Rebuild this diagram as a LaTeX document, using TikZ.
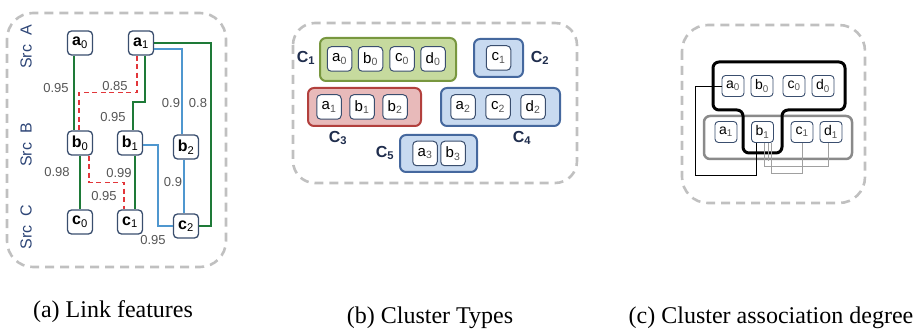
\documentclass[tikz,border=0pt]{standalone}
\usepackage{fontspec}
\setmainfont{Liberation Sans}
\newfontfamily\capfont{Liberation Serif}
\usetikzlibrary{calc}

\definecolor{nodeedge}{HTML}{3A4E6E}
\definecolor{linkgreen}{HTML}{1E7A38}
\definecolor{linkblue}{HTML}{4F97CF}
\definecolor{linkred}{HTML}{E2363A}
\definecolor{numgray}{HTML}{555555}
\definecolor{srcblue}{HTML}{2E4677}
\definecolor{framegray}{HTML}{C0C0C0}
\definecolor{clgreenfill}{HTML}{C6DA9E}
\definecolor{clgreenedge}{HTML}{78973F}
\definecolor{clredfill}{HTML}{E8BABA}
\definecolor{clrededge}{HTML}{B2403D}
\definecolor{clbluefill}{HTML}{C8DAF0}
\definecolor{clblueedge}{HTML}{45689E}
\definecolor{clnavy}{HTML}{1F2D4D}
\definecolor{assocgray}{HTML}{8A8A8A}
\definecolor{wiregray}{HTML}{A0A0A0}

\newcommand{\blab}[2]{\textbf{#1}\textsubscript{#2}}
\newcommand{\rlab}[2]{#1\textsubscript{\color{numgray}#2}}

\tikzset{
  frame/.style={draw=framegray, line width=2.6pt, dash pattern=on 9pt off 6pt, rounded corners=26pt},
  recbox/.style={draw=nodeedge, line width=1.3pt, rounded corners=4pt, fill=white,
    minimum width=25pt, minimum height=24pt, inner sep=0pt, font=\fontsize{16}{16}\selectfont},
  itembox/.style={draw=nodeedge, line width=1pt, rounded corners=4pt, fill=white,
    minimum width=24.5pt, minimum height=24.5pt, inner sep=0pt, font=\fontsize{15}{15}\selectfont},
  smallbox/.style={draw=nodeedge, line width=0.9pt, rounded corners=3.5pt, fill=white,
    minimum width=22pt, minimum height=21pt, inner sep=0pt, font=\fontsize{14}{14}\selectfont},
  grnlink/.style={draw=linkgreen, line width=2pt},
  bluelink/.style={draw=linkblue, line width=1.3pt},
  redlink/.style={draw=linkred, line width=1.5pt, dash pattern=on 5pt off 3.5pt},
  weight/.style={text=numgray, font=\fontsize{13}{13}\selectfont, inner sep=0pt},
  srclabel/.style={text=srcblue, font=\fontsize{16}{16}\selectfont, rotate=90, inner sep=0pt},
  clgreen/.style={draw=clgreenedge, fill=clgreenfill, line width=2pt, rounded corners=6pt},
  clred/.style={draw=clrededge, fill=clredfill, line width=2pt, rounded corners=6pt},
  clblue/.style={draw=clblueedge, fill=clbluefill, line width=2pt, rounded corners=6pt},
  cltag/.style={text=clnavy, font=\fontsize{16}{16}\selectfont\bfseries, inner sep=0pt},
  caption/.style={font=\capfont\fontsize{24}{24}\selectfont, inner sep=0pt},
  wire/.style={draw=black, line width=0.9pt},
  graywire/.style={draw=wiregray, line width=0.9pt}
}

\begin{document}
\begin{tikzpicture}[x=1pt,y=-1pt]
\useasboundingbox (0,0) rectangle (915,331);

% ---------------- (a) link features ----------------
\draw[frame] (7,13) rectangle (226,267);
\node[srclabel] (srcA) at (26,47) {Src\ \ A};
\node[srclabel] (srcB) at (26,145) {Src\ \ B};
\node[srclabel] (srcC) at (26,227) {Src\ \ C};

\node[recbox] (a0) at (80,43) {\blab{a}{0}};
\node[recbox] (a1) at (141,43) {\blab{a}{1}};
\node[recbox] (b0) at (80,143) {\blab{b}{0}};
\node[recbox] (b1) at (130,143) {\blab{b}{1}};
\node[recbox] (b2) at (186,147) {\blab{b}{2}};
\node[recbox] (c0) at (80,222) {\blab{c}{0}};
\node[recbox] (c1) at (130,222) {\blab{c}{1}};
\node[recbox] (c2) at (186,226) {\blab{c}{2}};

% green links
\draw[grnlink] ([xshift=-6pt]a0.south) -- ([xshift=-6pt]a0.south |- b0.north);
\draw[grnlink] (b0.south) -- (c0.north);
\draw[grnlink] ([xshift=4pt]a1.south) |- ($([xshift=3pt]b1.north)+(0,-28)$) -- ([xshift=3pt]b1.north);
\draw[grnlink] ([xshift=5pt]b1.south) -- ([xshift=5pt]b1.south |- c1.north);
\draw[grnlink] (a1.east) -| ($(c2.east)+(12,0)$) -- (c2.east);
% blue links
\draw[bluelink] ([yshift=-6pt]a1.east) -| ([xshift=-4pt]b2.north);
\draw[bluelink] ([yshift=-2pt]b1.east) -| ($(c2.west)+(-15,0)$) -- (c2.west);
\draw[bluelink] ([xshift=-2pt]b2.south) -- ([xshift=-2pt]b2.south |- c2.north);
% red dashed links
\draw[redlink] ([xshift=-4pt]a1.south) |- ($([xshift=-1pt]b0.north)+(0,-38)$) -- ([xshift=-1pt]b0.north);
\draw[redlink] ([xshift=9pt]b0.south) |- ($([xshift=-6pt]c1.north)+(0,-27)$) -- ([xshift=-6pt]c1.north);

\node[weight] (w1) at (56,88) {0.95};
\node[weight] (w2) at (115,86) {0.85};
\node[weight] (w3) at (171,103) {0.9};
\node[weight] (w4) at (198,103) {0.8};
\node[weight] (w5) at (113,117) {0.95};
\node[weight] (w6) at (57,172) {0.98};
\node[weight] (w7) at (119,173) {0.99};
\node[weight] (w8) at (173,182) {0.9};
\node[weight] (w9) at (104,196) {0.95};
\node[weight] (w10) at (153,240) {0.95};

% ---------------- (b) cluster types ----------------
\draw[frame, rounded corners=22pt] (293,23) rectangle (577,183);

\node[clgreen, minimum width=136pt, minimum height=43pt] (C1) at (388,59.5) {};
\node[clblue, minimum width=49pt, minimum height=38pt] (C2) at (498.5,58) {};
\node[clred, minimum width=113pt, minimum height=38pt] (C3) at (364.5,107) {};
\node[clblue, minimum width=119pt, minimum height=38pt] (C4) at (500.5,107) {};
\node[clblue, minimum width=77pt, minimum height=37pt] (C5) at (438.5,153.5) {};

\node[itembox] (p1a0) at (339.5,59) {\rlab{a}{0}};
\node[itembox] (p1b0) at (370.5,59) {\rlab{b}{0}};
\node[itembox] (p1c0) at (402,59) {\rlab{c}{0}};
\node[itembox] (p1d0) at (433,59) {\rlab{d}{0}};
\node[itembox] (p2c1) at (498.5,58) {\rlab{c}{1}};
\node[itembox] (p3a1) at (329,107) {\rlab{a}{1}};
\node[itembox] (p3b1) at (362,107) {\rlab{b}{1}};
\node[itembox] (p3b2) at (395,107) {\rlab{b}{2}};
\node[itembox] (p4a2) at (463,107) {\rlab{a}{2}};
\node[itembox] (p4c2) at (498,107) {\rlab{c}{2}};
\node[itembox] (p4d2) at (533,107) {\rlab{d}{2}};
\node[itembox] (p5a3) at (425,153.5) {\rlab{a}{3}};
\node[itembox] (p5b3) at (453,153.5) {\rlab{b}{3}};

\node[cltag] (t1) at (306,58) {C\textsubscript{1}};
\node[cltag] (t2) at (540,58) {C\textsubscript{2}};
\node[cltag] (t3) at (338,138) {C\textsubscript{3}};
\node[cltag] (t4) at (522,138) {C\textsubscript{4}};
\node[cltag] (t5) at (385,153) {C\textsubscript{5}};

% ---------------- (c) cluster association degree ----------------
\draw[frame, rounded corners=26pt] (682,25) rectangle (865,203);

\draw[draw=assocgray, line width=2.5pt, rounded corners=6pt] (704,116) rectangle (852,159);
\draw[line width=3pt, rounded corners=6pt]
  (713,62) -- (845,62) -- (845,110) -- (782,110) -- (782,153) -- (743,153) -- (743,110) -- (713,110) -- cycle;

\node[smallbox] (q0a) at (733,86) {\rlab{a}{0}};
\node[smallbox] (q0b) at (762,86) {\rlab{b}{0}};
\node[smallbox] (q0c) at (794,86) {\rlab{c}{0}};
\node[smallbox] (q0d) at (823,86) {\rlab{d}{0}};
\node[smallbox] (q1a) at (726,132) {\rlab{a}{1}};
\node[smallbox] (q1b) at (762.5,132) {\rlab{b}{1}};
\node[smallbox] (q1c) at (802,132) {\rlab{c}{1}};
\node[smallbox] (q1d) at (831,132) {\rlab{d}{1}};

\draw[wire] (q0a.west) -| (695,175) -| ([xshift=-6.5pt]q1b.south);
\draw[graywire] ([xshift=2pt]q1b.south) |- ($([xshift=-3pt]q1d.south)+(0,24)$) -- ([xshift=-3pt]q1d.south);
\draw[graywire] ([xshift=5.5pt]q1b.south) -- ++(0,18);
\draw[graywire] ([xshift=9pt]q1b.south) |- ($(q1c.south)+(0,31)$) -- (q1c.south);

% ---------------- captions ----------------
\node[caption] (capA) at (113,312) {(a) Link features};
\node[caption] (capB) at (430,318) {(b) Cluster Types};
\node[caption] (capC) at (771,318) {(c) Cluster association degree};
\end{tikzpicture}
\end{document}
